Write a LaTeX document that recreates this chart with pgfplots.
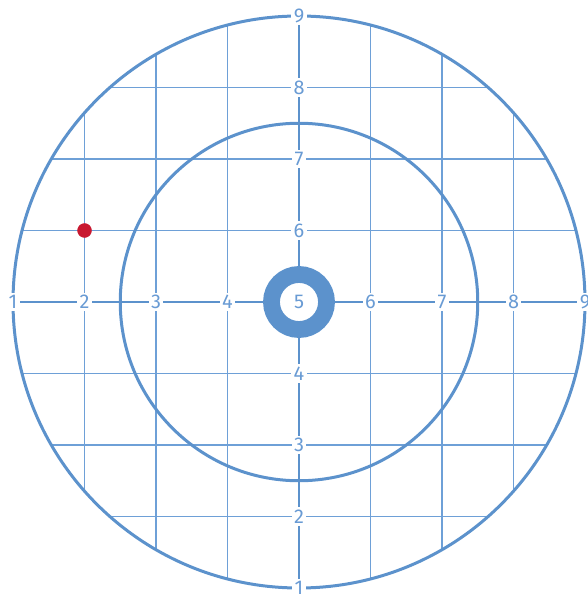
\documentclass[border=0pt]{standalone}
\usepackage{fontspec}
\setmainfont{Fira Sans}
\usepackage{pgfplots}
\pgfplotsset{compat=1.18}
\definecolor{ring}{RGB}{92,146,204}
\definecolor{gridc}{RGB}{110,160,215}
\definecolor{labc}{RGB}{105,155,212}
\definecolor{dot}{RGB}{200,24,48}
\tikzset{ticklab/.style={fill=white, text=labc, inner sep=2.5bp, font=\fontsize{20}{24}\selectfont}}

\begin{document}
\begin{tikzpicture}
\begin{axis}[
    x=71.5bp, y=71.5bp,
    xmin=0.818, xmax=9.028,
    ymin=0.902, ymax=9.224,
    hide axis,
    clip=false,
]
\coordinate (bl) at (axis cs:0.818,0.902);
\coordinate (tr) at (axis cs:9.028,9.224);
% grid lines, cut at the outer circle
\draw[gridc, line width=1.4bp] (axis cs:2,2.3542) -- (axis cs:2,7.6458);
\draw[gridc, line width=1.4bp] (axis cs:8,2.3542) -- (axis cs:8,7.6458);
\draw[gridc, line width=1.4bp] (axis cs:3,1.5359) -- (axis cs:3,8.4641);
\draw[gridc, line width=1.4bp] (axis cs:7,1.5359) -- (axis cs:7,8.4641);
\draw[gridc, line width=1.4bp] (axis cs:4,1.127) -- (axis cs:4,8.873);
\draw[gridc, line width=1.4bp] (axis cs:6,1.127) -- (axis cs:6,8.873);
\draw[gridc, line width=1.4bp] (axis cs:2.3542,2) -- (axis cs:7.6458,2);
\draw[gridc, line width=1.4bp] (axis cs:2.3542,8) -- (axis cs:7.6458,8);
\draw[gridc, line width=1.4bp] (axis cs:1.5359,3) -- (axis cs:8.4641,3);
\draw[gridc, line width=1.4bp] (axis cs:1.5359,7) -- (axis cs:8.4641,7);
\draw[gridc, line width=1.4bp] (axis cs:1.127,4) -- (axis cs:8.873,4);
\draw[gridc, line width=1.4bp] (axis cs:1.127,6) -- (axis cs:8.873,6);
% axes through the centre
\draw[ring, line width=1.6bp] (axis cs:1,5) -- (axis cs:9,5);
\draw[ring, line width=1.6bp] (axis cs:5,1) -- (axis cs:5,9);
% circles
\draw[ring, line width=3bp] (axis cs:5,5) circle[radius=4];
\draw[ring, line width=3bp] (axis cs:5,5) circle[radius=2.5];
\fill[white] (axis cs:5,5) circle[radius=0.27];
\draw[ring, line width=16.8bp] (axis cs:5,5) circle[radius=0.385];

% the point
\addplot[only marks, mark=*, mark size=7bp, color=dot] coordinates {(2,6)};

% tick labels on the axes
\node[ticklab] at (axis cs:1,5) {1};
\node[ticklab] at (axis cs:2,5) {2};
\node[ticklab] at (axis cs:3,5) {3};
\node[ticklab] at (axis cs:4,5) {4};
\node[ticklab] at (axis cs:6,5) {6};
\node[ticklab] at (axis cs:7,5) {7};
\node[ticklab] at (axis cs:8,5) {8};
\node[ticklab] at (axis cs:9,5) {9};
\node[ticklab] at (axis cs:5,1) {1};
\node[ticklab] at (axis cs:5,2) {2};
\node[ticklab] at (axis cs:5,3) {3};
\node[ticklab] at (axis cs:5,4) {4};
\node[ticklab] at (axis cs:5,6) {6};
\node[ticklab] at (axis cs:5,7) {7};
\node[ticklab] at (axis cs:5,8) {8};
\node[ticklab] at (axis cs:5,9) {9};
\node[ticklab, fill=none] at (axis cs:5,5) {5};
\end{axis}
\pgfresetboundingbox
\useasboundingbox (bl) rectangle (tr);
\end{tikzpicture}
\end{document}
